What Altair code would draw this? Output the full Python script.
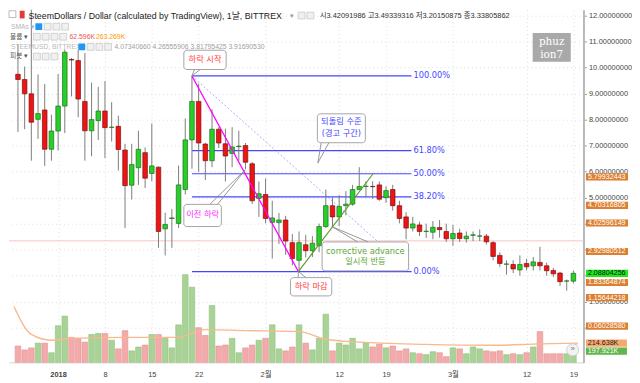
import altair as alt
import pandas as pd

# ---------------- data ----------------
DATES = pd.date_range("2017-12-26", "2018-03-19", freq="D")
OPEN = [9.74, 9.54, 8.99, 8.01, 8.37, 6.86, 7.56, 8.52, 10.31, 10.27,
        8.70, 7.57, 7.96, 8.33, 7.70, 7.74, 6.83, 5.48, 6.15, 6.73,
        5.93, 6.17, 3.80, 4.20, 4.01, 5.31, 7.22, 8.70, 7.06, 6.42,
        7.63, 7.07, 6.70, 6.96, 7.00, 6.30, 4.97, 5.12, 4.05, 4.04,
        4.14, 3.27, 2.59, 3.19, 2.96, 3.15, 3.89, 4.69, 4.26, 4.69,
        4.75, 5.31, 5.43, 5.43, 5.49, 5.00, 5.31, 4.69, 4.26, 3.83,
        3.95, 3.70, 3.67, 3.85, 3.70, 3.42, 3.64, 3.42, 3.55, 3.52,
        3.52, 3.27, 2.78, 2.44, 2.43, 2.22, 2.47, 2.38, 2.51, 2.38,
        2.20, 2.10, 1.79, 1.79]
HIGH = [10.90, 10.04, 12.30, 9.74, 9.37, 8.19, 9.75, 10.70, 10.37, 10.68,
        10.56, 9.42, 9.26, 9.48, 8.67, 8.15, 7.07, 7.07, 7.57, 6.93,
        7.85, 6.20, 4.42, 4.56, 6.23, 8.04, 9.68, 9.38, 7.11, 8.40,
        7.71, 7.65, 7.71, 7.57, 7.10, 6.37, 5.62, 5.74, 4.88, 4.41,
        4.30, 3.60, 3.70, 3.57, 3.52, 4.00, 5.31, 5.00, 5.10, 5.25,
        5.49, 6.17, 5.63, 5.63, 5.62, 5.44, 5.49, 4.88, 4.44, 4.26,
        4.07, 4.00, 4.10, 4.14, 4.00, 3.95, 3.80, 3.70, 3.70, 3.78,
        3.60, 3.33, 2.90, 2.59, 2.59, 2.78, 2.65, 2.72, 3.11, 2.50,
        2.30, 2.15, 1.85, 2.20]
LOW = [7.52, 7.63, 6.42, 7.26, 6.22, 6.42, 6.81, 7.48, 8.89, 8.09,
       6.42, 6.59, 7.22, 6.52, 7.16, 6.04, 3.83, 4.93, 5.49, 5.37,
       5.63, 3.07, 2.78, 3.07, 3.83, 5.12, 6.11, 5.99, 5.68, 6.17,
       6.91, 5.62, 6.17, 6.42, 6.11, 4.75, 4.26, 4.01, 2.66, 3.22,
       2.80, 2.40, 2.16, 2.70, 2.72, 2.90, 3.83, 3.89, 3.90, 4.32,
       4.69, 5.30, 5.00, 4.95, 4.88, 4.80, 4.50, 4.01, 3.40, 3.70,
       3.52, 3.45, 3.40, 3.46, 3.30, 3.15, 3.30, 3.27, 3.33, 3.33,
       3.20, 2.59, 2.34, 2.04, 2.10, 2.00, 2.20, 2.20, 2.20, 2.00,
       1.95, 1.60, 1.42, 1.70]
CLOSE = [9.54, 8.99, 7.90, 8.23, 6.86, 7.56, 8.52, 10.59, 10.29, 8.79,
         7.57, 8.00, 8.33, 7.69, 7.71, 6.85, 5.46, 6.27, 6.86, 5.75,
         6.22, 3.70, 3.97, 4.22, 5.49, 7.22, 8.70, 7.10, 6.42, 7.63,
         7.10, 6.60, 6.95, 6.98, 6.36, 4.88, 5.15, 4.20, 4.22, 4.14,
         3.33, 2.66, 3.27, 2.96, 3.25, 3.89, 4.69, 4.26, 4.66, 4.75,
         5.31, 5.43, 5.44, 5.42, 4.94, 5.27, 4.69, 4.20, 3.83, 3.99,
         3.70, 3.71, 3.86, 3.77, 3.42, 3.62, 3.43, 3.52, 3.57, 3.53,
         3.30, 2.74, 2.47, 2.45, 2.26, 2.43, 2.34, 2.53, 2.38, 2.19,
         2.07, 1.77, 1.80, 2.09]
VOLUME_K = [182, 139, 161, 214, 214, 107, 407, 514, 278, 268,
            225, 310, 321, 321, 246, 150, 353, 128, 171, 193,
            310, 310, 268, 161, 417, 974, 835, 385, 300, 631,
            182, 193, 268, 107, 161, 193, 246, 268, 417, 150,
            128, 171, 417, 214, 139, 268, 535, 128, 214, 193,
            268, 150, 214, 171, 203, 161, 182, 128, 150, 107,
            96, 86, 118, 107, 64, 161, 150, 96, 171, 150,
            128, 118, 128, 86, 96, 86, 107, 171, 342, 96,
            96, 96, 96, 198]
VOL_MA_DAY = [-6.6, -4, -1, 2, 10, 18, 22, 28, 36, 40, 45, 55, 65, 72, 77.7]
VOL_MA_K = [620, 310, 246, 267, 278, 278, 364, 353, 342, 257, 225, 200, 190, 205, 214]

FIB_RATIOS = [1.0, 0.618, 0.5, 0.382, 0.0]
FIB_TEXT = ["100.00%", "61.80%", "50.00%", "38.20%", "0.00%"]
SWING_HIGH, SWING_LOW = 9.678, 2.159
SWING_HIGH_DAY, SWING_LOW_DAY, FIB_END_DAY, REBOUND_END_DAY = 20.0, 35.9, 52.8, 47.06

PIVOTS = [5.79932443, 4.70316805, 4.02596149, 2.92980512, 1.83364874, 1.15644218, 0.06028580]
PIVOT_NUDGE_PX = [0, 0, 0, 0, 2.5, 0, 0]   # tag pushed down so it does not collide with the last-price tag
LAST_PRICE = 2.08804256
MARK_PRICE = 3.33805862

X_TICKS = [0, 7, 14, 21, 31, 42, 49, 59, 70, 77]
X_TICK_TEXT = ["2018", "8", "15", "22", "2월", "12", "19", "3월", "12", "19"]
Y_TICKS = list(range(0, 13))
Y_HIDDEN = [0, 2, 3, 4]  # covered by the price tags in the picture

# ---------------- layout ----------------
W, H = 580, 356
REF_X0, REF_X1, REF_Y0, REF_Y1 = 2, 590, 5, 371
X_DOMAIN = [(REF_X0 - 48) / 6.97, (REF_X1 - 48) / 6.97]
Y_DOMAIN = [12 - (REF_Y1 - 11) / 27, 12 + (11 - REF_Y0) / 27]
V_DOMAIN = [0, (REF_Y1 - REF_Y0) * 10.7]
SX = W / (REF_X1 - REF_X0)
SY = H / (REF_Y1 - REF_Y0)
PRICE_PER_PX = 1 / (27 * SY)


def PX(x):
    return (x - REF_X0) * SX


def PY(y):
    return (y - REF_Y0) * SY


SANS = "Liberation Sans, Noto Sans CJK KR, sans-serif"
NOTE = "DejaVu Sans, Noto Sans CJK KR, sans-serif"
BLUE = "#4646ff"
RED_T = "#ff3d3d"
MAG = "#ff2cff"
GRN_T = "#5aa531"

df = pd.DataFrame({"date": DATES, "O": OPEN, "H": HIGH, "L": LOW, "C": CLOSE, "V": VOLUME_K})
df["d"] = (df["date"] - pd.Timestamp("2018-01-01")).dt.days
df = df.drop(columns="date")

xscale = alt.Scale(domain=X_DOMAIN, nice=False, zero=False)
yscale = alt.Scale(domain=Y_DOMAIN, nice=False, zero=False)
vscale = alt.Scale(domain=V_DOMAIN, nice=False, zero=False)

label_expr = " : ".join(f"datum.value == {v} ? '{t}'" for v, t in zip(X_TICKS, X_TICK_TEXT)) + " : ''"
xaxis = alt.Axis(values=X_TICKS, labelExpr=label_expr, title=None, grid=True, gridColor="#dedede",
                 gridDash=[1, 3], ticks=False, domainColor="#d4d4d4", labelFont=SANS, labelFontSize=7.5,
                 labelColor="#444", labelPadding=8, labelFlush=False, labelOverlap=False,
                 labelFontWeight={"expr": "datum.value == 0 ? 'bold' : 'normal'"})
y_expr = " || ".join(f"datum.value == {v}" for v in Y_HIDDEN) + " ? '' : format(datum.value, '.8f')"
yaxis = alt.Axis(orient="right", values=Y_TICKS, labelExpr=y_expr, title=None, grid=True,
                 gridColor="#dedede", gridDash=[1, 3], tickSize=3, tickColor="#999", domainColor="#b9b9b9",
                 domainWidth=2, labelFont=SANS, labelFontSize=7.5, labelColor="#444", labelPadding=2)


def X(f):
    return alt.X(f, scale=xscale, axis=xaxis)


def YP(f):
    return alt.Y(f, scale=yscale, axis=yaxis)


def YV(f):
    return alt.Y(f, scale=vscale, axis=None)


UP = "datum.C >= datum.O"

# ---------------- volume pane ----------------
vol_bars = alt.Chart(df).mark_bar(size=5.7, strokeWidth=0.6).encode(
    x=X("d:Q"), y=YV("V:Q"),
    color=alt.condition(UP, alt.value("#a9d296"), alt.value("#f2aaaa")),
    stroke=alt.condition(UP, alt.value("#93c27f"), alt.value("#e69595")))
ma_df = pd.DataFrame({"d": VOL_MA_DAY, "v": VOL_MA_K})
vol_ma = alt.Chart(ma_df).mark_line(color="#f8b98c", strokeWidth=1.4, interpolate="monotone").encode(
    x=X("d:Q"), y=YV("v:Q"))
vol_layer = alt.layer(vol_bars, vol_ma)

# ---------------- price pane ----------------
price_line = alt.Chart(pd.DataFrame({"p": [MARK_PRICE]})).mark_rule(color="#f6c3c3", strokeWidth=1).encode(
    y=YP("p:Q"))

fib_df = pd.DataFrame({"p": [SWING_LOW + r * (SWING_HIGH - SWING_LOW) for r in FIB_RATIOS],
                       "t": FIB_TEXT, "x0": SWING_HIGH_DAY, "x1": FIB_END_DAY})
fib_lines = alt.Chart(fib_df).mark_rule(color=BLUE, strokeWidth=1.2).encode(
    x=X("x0:Q"), x2="x1:Q", y=YP("p:Q"))
fib_text = alt.Chart(fib_df).mark_text(align="left", baseline="middle", dx=2, fontSize=8.3, color=BLUE,
                                       font=NOTE).encode(x=X("x1:Q"), y=YP("p:Q"), text="t:N")


def seg(rows, color, width, dash=None):
    d = pd.DataFrame(rows, columns=["x0", "p0", "x1", "p1"])
    kw = dict(color=color, strokeWidth=width)
    if dash:
        kw["strokeDash"] = dash
    return alt.Chart(d).mark_rule(**kw).encode(x=X("x0:Q"), x2="x1:Q", y=YP("p0:Q"), y2="p1:Q")


fib_diag = seg([(SWING_HIGH_DAY, SWING_HIGH, FIB_END_DAY, SWING_LOW)], "#a9adff", 1, [2, 2])
decline = seg([(SWING_HIGH_DAY, SWING_HIGH, SWING_LOW_DAY, SWING_LOW)], "#ff00ff", 1.3)
rebound = seg([(SWING_LOW_DAY, SWING_LOW, REBOUND_END_DAY,
                SWING_LOW + 0.5 * (SWING_HIGH - SWING_LOW))], "#5c9e2a", 1.2)

wicks = alt.Chart(df).mark_rule(color="#7c7c7c", strokeWidth=1, clip=True).encode(
    x=X("d:Q"), y=YP("L:Q"), y2="H:Q")
bodies = alt.Chart(df).mark_bar(size=4.6, strokeWidth=0.7, clip=True).encode(
    x=X("d:Q"), y=YP("O:Q"), y2="C:Q",
    color=alt.condition(UP, alt.value("#27cf27"), alt.value("#ee1414")),
    stroke=alt.condition(UP, alt.value("#1d6f1d"), alt.value("#7d1010")))

TAILS = [(20.37, 9.926, 19.99, 9.678), (21.23, 9.926, 19.99, 9.678),
         (39.31, 7.111, 38.81, 6.333), (40.46, 7.111, 38.81, 6.333),
         (22.67, 4.741, 27.98, 6.074), (23.82, 4.741, 27.98, 6.074),
         (44.76, 3.296, 40.89, 3.889), (46.34, 3.296, 40.89, 3.889),
         (35.87, 1.926, 35.91, 2.159), (37.02, 1.926, 35.91, 2.159)]
tails = seg(TAILS, "#8c8c8c", 0.9)

box_df = pd.DataFrame([(18.79, 25.11, 10.667, 9.926), (38.74, 45.91, 8.222, 7.111),
                       (18.79, 24.39, 4.741, 3.889), (39.45, 52.37, 3.296, 2.185),
                       (34.72, 40.89, 1.926, 1.222)], columns=["x0", "x1", "p0", "p1"])
boxes = alt.Chart(box_df).mark_rect(fill="white", stroke="#9a9a9a", strokeWidth=0.9, cornerRadius=3).encode(
    x=X("x0:Q"), x2="x1:Q", y=YP("p0:Q"), y2="p1:Q")
note_df = pd.DataFrame([("하락 시작", 21.95, 10.296, RED_T), ("되돌림 수준", 42.32, 7.889, BLUE),
                        ("(경고 구간)", 42.32, 7.463, BLUE), ("이전 하락", 21.59, 4.315, MAG),
                        ("corrective advance", 45.91, 2.926, GRN_T), ("일시적 반등", 45.91, 2.519, GRN_T),
                        ("하락 마감", 37.80, 1.574, RED_T)], columns=["t", "d", "p", "c"])
notes = alt.Chart(note_df).mark_text(fontSize=8.3, font=NOTE, baseline="middle").encode(
    x=X("d:Q"), y=YP("p:Q"), text="t:N", color=alt.Color("c:N", scale=None))

HALF = 3.6 * PRICE_PER_PX
piv_df = pd.DataFrame({"p": PIVOTS, "nudge": PIVOT_NUDGE_PX})
piv_df["pos"] = piv_df["p"] - piv_df["nudge"] * PRICE_PER_PX
piv_df["top"] = piv_df["pos"] + HALF
piv_df["bot"] = piv_df["pos"] - HALF
piv_box = alt.Chart(piv_df).mark_rect(fill="#dc7f30").encode(
    x=alt.value(W + 2.5), x2=alt.value(W + 45), y=YP("top:Q"), y2="bot:Q")
piv_txt = alt.Chart(piv_df).mark_text(align="left", baseline="middle", fontSize=7.2, font=SANS,
                                      color="white").encode(
    x=alt.value(W + 4.5), y=YP("pos:Q"), text=alt.Text("p:Q", format=".8f"))
last_df = pd.DataFrame({"p": [LAST_PRICE], "top": [LAST_PRICE + HALF], "bot": [LAST_PRICE - HALF]})
last_box = alt.Chart(last_df).mark_rect(fill="#1fe81f").encode(
    x=alt.value(W + 2.5), x2=alt.value(W + 45), y=YP("top:Q"), y2="bot:Q")
last_txt = alt.Chart(last_df).mark_text(align="left", baseline="middle", fontSize=7.2, font=SANS,
                                        color="#111").encode(
    x=alt.value(W + 4.5), y=YP("p:Q"), text=alt.Text("p:Q", format=".8f"))

price_layer = alt.layer(price_line, fib_diag, fib_lines, fib_text, wicks, bodies, decline, rebound,
                        tails, boxes, notes, piv_box, piv_txt, last_box, last_txt)

# ---------------- pixel-placed chrome (legend header, watermark, volume tags) ----------------
ONE = pd.DataFrame({"k": [0]})


def label(text, x, y, size=7.2, color="#333", font=SANS, align="left", weight="normal"):
    return alt.Chart(ONE).mark_text(text=text, align=align, baseline="middle", fontSize=size, color=color,
                                    font=font, fontWeight=weight).encode(x=alt.value(PX(x)), y=alt.value(PY(y)))


def rect(x0, y0, x1, y1, fill, stroke=None, r=0):
    kw = dict(fill=fill, cornerRadius=r)
    if stroke:
        kw["stroke"] = stroke
        kw["strokeWidth"] = 0.8
    return alt.Chart(ONE).mark_rect(**kw).encode(x=alt.value(PX(x0)), x2=alt.value(PX(x1)),
                                                 y=alt.value(PY(y0)), y2=alt.value(PY(y1)))


def icons(xs, y, blue_first=False):
    out = []
    for i, x in enumerate(xs):
        if blue_first and i == 0:
            out.append(rect(x, y - 3.5, x + 7, y + 3.5, "#2196f3"))
        else:
            out.append(rect(x, y - 3.5, x + 7, y + 3.5, "#f0f0f0", "#c8c8c8"))
    return out


pix = [
    rect(2, 6, 9, 13, "white", "#aaa"),
    rect(13, 6, 18, 14, "#e53935"),
    label("SteemDollars / Dollar (calculated by TradingView), 1날, BITTREX", 22, 11, 8.9, "#222"),
    label("▾", 290, 11, 7, "#999"),
    *icons([298, 307], 11),
    label("시3.42091986   고3.49339316   저3.20150875   종3.33805862", 320, 11.5, 7.5, "#333"),
    label("SMAs ▾", 4, 22.5, 6.8, "#b5b5b5"),
    *icons([29, 38, 47, 56], 22.5, blue_first=True),
    label("볼륨 ▾", 3, 33, 6.8, "#555"),
    *icons([27, 36, 45, 54], 33),
    label("62.596K", 64, 33, 6.9, "#ef5350"),
    label("263.269K", 91, 33, 6.9, "#ff9800"),
    label("STEEMUSD, BITTREX ▾", 4, 43.5, 6.8, "#b9b9b9"),
    *icons([73, 82, 91, 100], 43.5, blue_first=True),
    label("4.07340660   4.26555906   3.81795425   3.91690530", 110, 43.5, 6.9, "#a0a0a0"),
    label("피봇 ▾", 3, 53.5, 6.8, "#555"),
    *icons([27, 36, 45], 53.5),
    rect(538, 29, 577, 59, "#a9a9a9"),
    label("phuz", 557.5, 38, 10.5, "white", "DejaVu Serif", "center"),
    label("ion7", 557.5, 52, 10.5, "white", "DejaVu Serif", "center"),
    alt.Chart(ONE).mark_point(shape="circle", filled=True, size=150, fill="#f2f2f2", stroke="#c9c9c9",
                              strokeWidth=0.8, opacity=1).encode(x=alt.value(PX(579)), y=alt.value(PY(358))),
    label("»", 579, 357.5, 8, "#777", SANS, "center"),
    rect(592.5, 347.3, 634.5, 354.7, "#f8a86d"),
    label("214.638K", 594.5, 351, 7.2, "#222"),
    rect(592.5, 355.6, 634.5, 363, "#62b44b"),
    label("197.921K", 594.5, 359.3, 7.2, "white"),
]
pix_layer = alt.layer(*pix)

chart = alt.layer(vol_layer, price_layer, pix_layer).resolve_scale(y="independent").properties(
    width=W, height=H, padding=0, background="white").configure_view(stroke=None)

chart.save("out.html", embed_options={"renderer": "svg", "actions": False})
